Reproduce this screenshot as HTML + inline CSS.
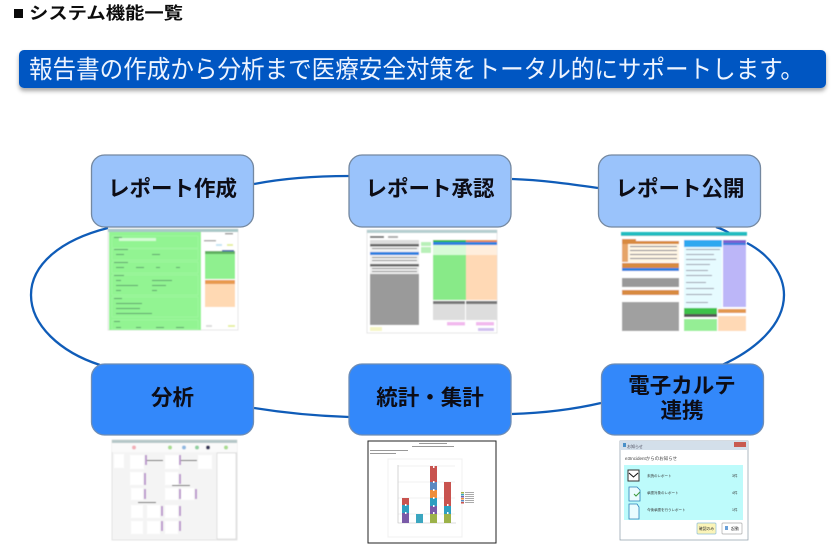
<!DOCTYPE html>
<html lang="ja"><head><meta charset="utf-8"><title>システム機能一覧</title>
<style>html,body{margin:0;padding:0;background:#fff}svg{display:block}
text{font-family:"Liberation Sans","Noto Sans CJK JP",sans-serif}
.b{font-weight:700;fill:#0a0a14;font-size:21.5px;text-anchor:middle}</style></head><body>
<svg width="840" height="555" viewBox="0 0 840 555" xmlns="http://www.w3.org/2000/svg">
<defs><filter id="s" x="-5%" y="-20%" width="110%" height="150%"><feDropShadow dx="0" dy="3" stdDeviation="2" flood-color="#000" flood-opacity=".35"/></filter>
<filter id="bl" x="-2%" y="-2%" width="104%" height="104%"><feGaussianBlur stdDeviation=".5"/></filter>
<filter id="tb" x="-2%" y="-10%" width="104%" height="120%"><feGaussianBlur stdDeviation=".3"/></filter></defs>
<rect x="14" y="9" width="9" height="9" fill="#0a0a0a"/>
<text x="29" y="19" font-size="17" font-weight="700" fill="#0a0a0a" textLength="154" lengthAdjust="spacingAndGlyphs" filter="url(#tb)">システム機能一覧</text>
<rect x="19" y="50" width="807" height="38" rx="5" fill="#0657c2" filter="url(#s)"/>
<text x="29" y="78" font-size="25" fill="#eef4ff" textLength="775" lengthAdjust="spacingAndGlyphs" filter="url(#tb)">報告書の作成から分析まで医療安全対策をトータル的にサポートします。</text>
<g fill="none" stroke="#0f5cb8" stroke-width="2.3">
<path d="M108 228C60 240 31 265 31 295C31 325 60 352 100 365"/>
<path d="M254 184C285 178 318 176 349 176"/>
<path d="M512 179C542 180 570 184 598 188"/>
<path d="M716 227C722 229 726 231 729 233"/>
<path d="M254 408C285 413 318 416 349 417"/>
<path d="M512 414C545 413 575 409 601 403"/>
</g>
<!-- screen 1 -->
<g filter="url(#bl)">
<rect x="108" y="229" width="130" height="101" fill="#fff" stroke="#ccc" stroke-width=".5"/>
<rect x="108" y="229" width="130" height="3" fill="#a9c8c8"/>
<rect x="109" y="232" width="92" height="98" fill="#92f492"/>
<g fill="none" stroke="#a6f6a6" stroke-width=".6"><rect x="112" y="236" width="86" height="12"/><rect x="112" y="249" width="86" height="11"/><rect x="112" y="262" width="86" height="11"/><rect x="112" y="275" width="86" height="20"/><rect x="112" y="297" width="86" height="20"/><rect x="112" y="320" width="86" height="9"/></g>
<rect x="119" y="238" width="30" height="3" fill="#d4fbd4"/><rect x="141" y="238" width="15" height="3" fill="#d4fbd4"/>
<g fill="#5d9f6d"><rect x="114" y="237" width="8" height="1"/><rect x="114" y="249" width="14" height="1"/><rect x="116" y="254" width="8" height="1"/><rect x="152" y="254" width="8" height="1"/><rect x="114" y="262" width="14" height="1"/><rect x="116" y="267" width="8" height="1"/><rect x="136" y="267" width="8" height="1"/><rect x="156" y="267" width="4" height="1"/><rect x="176" y="267" width="4" height="1"/><rect x="114" y="275" width="10" height="1"/><rect x="116" y="280" width="5" height="1"/><rect x="152" y="280" width="20" height="1"/><rect x="116" y="285" width="22" height="1"/><rect x="152" y="285" width="14" height="1"/><rect x="116" y="290" width="5" height="1"/><rect x="152" y="290" width="5" height="1"/><rect x="114" y="298" width="8" height="1"/><rect x="116" y="303" width="26" height="1"/><rect x="116" y="308" width="24" height="1"/><rect x="116" y="313" width="36" height="1"/><rect x="114" y="321" width="6" height="1"/><rect x="116" y="327" width="5" height="1"/><rect x="136" y="327" width="5" height="1"/><rect x="156" y="327" width="8" height="1"/><rect x="176" y="327" width="8" height="1"/></g>
<rect x="205" y="251" width="30" height="3" fill="#60b060"/><rect x="205" y="254" width="30" height="25" fill="#8ff08f"/>
<rect x="205" y="280" width="30" height="4" fill="#e89a50"/><rect x="205" y="284" width="30" height="23" fill="#ffd9b3"/>
<rect x="222" y="250" width="12" height="1.500" fill="#46a"/><rect x="225" y="233" width="8" height="1.500" fill="#999"/><rect x="204" y="240" width="12" height="1.500" fill="#aaa"/>
<rect x="216" y="244" width="6" height="2" fill="#c6e4f4"/><rect x="227" y="244" width="6" height="2" fill="#e6f0a0"/><rect x="228" y="325" width="7" height="2" fill="#e6f0a0"/><rect x="206" y="325" width="6" height="2" fill="#ddd"/>
</g>
<!-- screen 2 -->
<g filter="url(#bl)">
<rect x="367" y="230" width="130" height="103" fill="#fff" stroke="#ccc" stroke-width=".5"/>
<rect x="367" y="230" width="130" height="3" fill="#b5cfd0"/>
<rect x="370" y="236" width="14" height="2" fill="#777"/><rect x="388" y="236" width="10" height="2" fill="#aaa"/>
<rect x="370" y="240" width="49" height="4" fill="#ddd"/>
<rect x="370" y="244" width="49" height="2.500" fill="#666"/>
<rect x="370" y="246.500" width="49" height="18" fill="#f2f2f2"/>
<rect x="370" y="252" width="49" height="3" fill="#2f80e0"/>
<rect x="370" y="264" width="49" height="2.500" fill="#666"/>
<rect x="370" y="266.500" width="49" height="8" fill="#eee"/>
<rect x="370" y="274" width="49" height="51" fill="#9a9a9a"/>
<g fill="#888"><rect x="372" y="248" width="45" height="1"/><rect x="372" y="257" width="45" height="1"/><rect x="372" y="260" width="45" height="1"/><rect x="372" y="268" width="45" height="1"/><rect x="372" y="271" width="45" height="1"/></g>
<rect x="421" y="242" width="10" height="4" fill="#b8f0b8"/><rect x="421" y="247" width="10" height="6" fill="#b8f0b8"/>
<rect x="433" y="240" width="33" height="2" fill="#2dbb3a"/><rect x="433" y="242" width="33" height="3" fill="#2f80e0"/><rect x="433" y="245" width="33" height="10" fill="#d8fbd8"/>
<rect x="433" y="255" width="33" height="45" fill="#88ea88"/>
<rect x="466" y="240" width="31" height="2" fill="#e98b3c"/><rect x="466" y="242" width="31" height="3" fill="#2f80e0"/><rect x="466" y="245" width="31" height="10" fill="#ffeedd"/>
<rect x="466" y="255" width="31" height="45" fill="#ffd9b5"/>
<rect x="433" y="301" width="32" height="3" fill="#777"/><rect x="433" y="304" width="32" height="16" fill="#ddd"/>
<rect x="466" y="301" width="31" height="3" fill="#777"/><rect x="466" y="304" width="31" height="16" fill="#ddd"/>
<rect x="447" y="322" width="18" height="3.500" fill="#f2b9ee"/><rect x="476" y="322" width="18" height="3.500" fill="#f2b9ee"/>
<rect x="370" y="327" width="12" height="4" fill="#f6f6c4"/><rect x="478" y="328" width="16" height="3" fill="#d0bff0"/>
</g>
<!-- screen 3 -->
<g filter="url(#bl)">
<rect x="621" y="232" width="126" height="100" fill="#fff"/>
<rect x="621" y="232" width="126" height="4" fill="#22bcc0"/>
<rect x="622" y="239" width="14" height="2" fill="#d88a40"/>
<rect x="622" y="241" width="57" height="3" fill="#d88a40"/>
<rect x="622" y="244" width="57" height="18" fill="#fff6e4"/>
<g fill="#778"><rect x="630" y="246" width="47" height="1"/><rect x="630" y="250" width="47" height="1"/><rect x="630" y="254" width="47" height="1"/><rect x="630" y="258" width="47" height="1"/></g>
<rect x="622" y="244" width="6" height="18" fill="#e6a468"/>
<rect x="622" y="263" width="57" height="5" fill="#d88a40"/><rect x="622" y="268" width="57" height="3" fill="#2f80e0"/>
<rect x="622" y="271" width="57" height="7" fill="#fff"/><rect x="622" y="278" width="57" height="9" fill="#999"/>
<rect x="622" y="290" width="57" height="5" fill="#d88a40"/><rect x="622" y="295" width="57" height="7" fill="#fff"/><rect x="622" y="302" width="57" height="29" fill="#a0a0a0"/>
<rect x="684" y="240" width="38" height="7" fill="#2fa8f0"/>
<rect x="684" y="247" width="38" height="61" fill="#e6fbff"/>
<g fill="#99a"><rect x="686" y="249" width="34" height="1"/><rect x="686" y="254" width="28" height="1"/><rect x="686" y="259" width="30" height="1"/><rect x="686" y="264" width="24" height="1"/><rect x="686" y="270" width="22" height="1"/><rect x="686" y="275" width="26" height="1"/><rect x="686" y="282" width="20" height="1"/><rect x="686" y="288" width="28" height="1"/><rect x="686" y="294" width="26" height="1"/><rect x="686" y="302" width="22" height="1"/></g>
<rect x="684" y="308" width="33" height="6" fill="#3cc24a"/><rect x="684" y="314" width="33" height="3" fill="#555"/><rect x="684" y="319" width="33" height="12" fill="#95ee95"/>
<rect x="723" y="240" width="23" height="3" fill="#7b5fd0"/><rect x="723" y="243" width="23" height="2" fill="#2f80e0"/><rect x="723" y="245" width="23" height="62" fill="#bcb6f8"/>
<rect x="718" y="309" width="28" height="4" fill="#e3984f"/><rect x="718" y="313" width="28" height="3" fill="#fff"/><rect x="718" y="316" width="28" height="15" fill="#ffd9b5"/>
</g>
<path d="M747 243C770 255 784 275 784 295C784 325 755 350 722 365" fill="none" stroke="#0f5cb8" stroke-width="2.300"/>
<!-- screen 4 -->
<g filter="url(#bl)">
<rect x="112" y="440" width="125" height="100" fill="#f4f4f4" stroke="#ccc" stroke-width=".5"/>
<rect x="112" y="440" width="125" height="3" fill="#b5c7c8"/>
<rect x="112" y="443" width="125" height="9" fill="#fafafa"/>
<circle cx="134" cy="447.500" r="2" fill="#f2b0b8"/><circle cx="170" cy="447.500" r="2" fill="#a8dc90"/><circle cx="184" cy="447.500" r="2" fill="#90b8e0"/><circle cx="197" cy="447.500" r="2" fill="#90d0a0"/><circle cx="208" cy="447.500" r="2" fill="#335"/><circle cx="226" cy="447.500" r="2" fill="#a8dc90"/>
<g fill="#fff"><rect x="114" y="454" width="10" height="14"/><rect x="130" y="455" width="14" height="14"/><rect x="165" y="455" width="14" height="14"/><rect x="198" y="455" width="14" height="14"/><rect x="130" y="472" width="13" height="13"/><rect x="165" y="472" width="13" height="13"/><rect x="131" y="488" width="12" height="12"/><rect x="165" y="488" width="13" height="12"/><rect x="181" y="488" width="13" height="12"/><rect x="131" y="505" width="12" height="13"/><rect x="147" y="505" width="13" height="13"/><rect x="165" y="505" width="13" height="13"/><rect x="131" y="521" width="12" height="13"/><rect x="147" y="521" width="13" height="13"/><rect x="165" y="521" width="13" height="13"/></g>
<rect x="217" y="453" width="19" height="86" fill="#fff" stroke="#bbb" stroke-width=".4"/>
<g fill="#555"><rect x="145" y="460" width="18" height="1"/><rect x="180" y="460" width="17" height="1"/><rect x="172" y="485" width="18" height="1"/><rect x="138" y="502" width="18" height="1"/></g>
<g fill="#b9c"><rect x="145" y="455" width="2" height="10"/><rect x="179" y="455" width="2" height="10"/><rect x="144" y="473" width="2" height="12"/><rect x="179" y="474" width="2" height="10"/><rect x="144" y="489" width="2" height="10"/><rect x="179" y="489" width="2" height="10"/><rect x="195" y="489" width="2" height="10"/><rect x="161" y="506" width="2" height="10"/><rect x="179" y="506" width="2" height="10"/><rect x="161" y="521" width="2" height="10"/><rect x="179" y="521" width="2" height="10"/></g>
</g>
<!-- screen 5 -->
<g filter="url(#tb)">
<rect x="368" y="441" width="128" height="102" fill="#fff" stroke="#222" stroke-width="1"/>
<rect x="419" y="443" width="28" height="1" fill="#999"/><rect x="412" y="446" width="42" height="1" fill="#999"/>
<rect x="370" y="450" width="38" height="1" fill="#999"/><rect x="370" y="453" width="26" height="1" fill="#999"/>
<rect x="388" y="459" width="74" height="78" fill="none" stroke="#f0f0f0"/>
<g stroke="#e2e2e2" stroke-width=".5"><path d="M398 466H455M398 482H455M398 498H455M398 514H455"/></g>
<path d="M398 465V523H456" fill="none" stroke="#bbb" stroke-width=".6"/>
<rect x="402" y="513" width="7" height="10" fill="#7a5aa8"/><rect x="402" y="505" width="7" height="8" fill="#2f9fc0"/><rect x="402" y="498" width="7" height="7" fill="#c8534f"/>
<rect x="416" y="514" width="7" height="9" fill="#3aa6c0"/>
<rect x="430" y="514" width="7" height="9" fill="#9cb24a"/><rect x="430" y="506" width="7" height="8" fill="#7a5aa8"/><rect x="430" y="498" width="7" height="8" fill="#2f9fc0"/><rect x="430" y="490" width="7" height="8" fill="#ef8f3b"/><rect x="430" y="482" width="7" height="8" fill="#5a88c0"/><rect x="430" y="466" width="7" height="16" fill="#c8534f"/>
<rect x="444" y="514" width="7" height="9" fill="#9cb24a"/><rect x="444" y="506" width="7" height="8" fill="#2f9fc0"/><rect x="444" y="482" width="7" height="24" fill="#c8534f"/>
<g fill="#fff"><rect x="405" y="504" width="1.500" height="2"/><rect x="405" y="512" width="1.500" height="2"/><rect x="433" y="466" width="1.500" height="2"/><rect x="433" y="481" width="1.500" height="2"/><rect x="433" y="489" width="1.500" height="2"/><rect x="433" y="497" width="1.500" height="2"/><rect x="433" y="505" width="1.500" height="2"/><rect x="433" y="512" width="1.500" height="2"/><rect x="447" y="504" width="1.500" height="2"/><rect x="447" y="512" width="1.500" height="2"/></g>
<rect x="461" y="492" width="3" height="1.500" fill="#9cb24a"/><rect x="461" y="494" width="3" height="1.500" fill="#3aa6c0"/><rect x="461" y="496" width="3" height="1.500" fill="#7a5aa8"/><rect x="461" y="498" width="3" height="1.500" fill="#ef8f3b"/><rect x="461" y="500" width="3" height="1.500" fill="#5a88c0"/><rect x="461" y="502" width="3" height="1.500" fill="#c8534f"/>
<g fill="#aaa"><rect x="465" y="492" width="9" height="1"/><rect x="465" y="494" width="9" height="1"/><rect x="465" y="496" width="9" height="1"/><rect x="465" y="498" width="9" height="1"/><rect x="465" y="500" width="9" height="1"/><rect x="465" y="502" width="9" height="1"/></g>
</g>
<!-- screen 6 -->
<g filter="url(#tb)">
<rect x="620" y="441" width="128" height="99" fill="#fff" stroke="#8a9aa8" stroke-width=".7"/>
<rect x="620" y="441" width="128" height="9" fill="#d3dfea"/>
<rect x="734" y="442" width="12" height="5" fill="#c85a50"/>
<rect x="624" y="465" width="119" height="55" fill="#bdfbfb"/>
<rect x="623" y="443" width="3" height="4" fill="#4a90c8"/>
<text x="627" y="448" font-size="4" fill="#445">お知らせ</text>
<text x="625" y="460" font-size="4.500" fill="#444">e3Incidentからのお知らせ</text>
<rect x="628" y="470" width="11" height="11" fill="#fff" stroke="#333"/><path d="M629 473L633.500 477L638 473" fill="none" stroke="#111"/>
<path d="M629 487h8l3 3v11h-11z" fill="#eafcff" stroke="#2a7fb8" stroke-width=".8"/><path d="M634 494l2 2 4-4" fill="none" stroke="#3a9a3a"/>
<path d="M629 504h8l2 3v12h-10z" fill="#eafcff" stroke="#2a7fb8" stroke-width=".8"/>
<g font-size="3.500" fill="#333"><text x="647" y="477">未読のレポート</text><text x="647" y="494">承認対象のレポート</text><text x="647" y="511">今後承認を行うレポート</text><text x="732" y="477">3件</text><text x="732" y="494">4件</text><text x="732" y="511">1件</text></g>
<rect x="697" y="523" width="19" height="11" rx="1" fill="#fbf4b8" stroke="#8fbfd8" stroke-width=".7"/><text x="706.500" y="530" font-size="3.800" fill="#333" text-anchor="middle">確認のみ</text>
<rect x="722" y="523" width="20" height="11" rx="1" fill="#fff" stroke="#aaa" stroke-width=".7"/><text x="735" y="530" font-size="4" fill="#333" text-anchor="middle">起動</text>
<rect x="725" y="526" width="3" height="4" fill="#6aa0d8"/>
</g>
<!-- nodes -->
<g stroke="#7488a0" stroke-width="1.300" fill="#9ac3fb">
<rect x="91.500" y="155" width="162" height="72" rx="13"/>
<rect x="349" y="155" width="162" height="72" rx="13"/>
<rect x="598.500" y="155" width="162" height="72" rx="13"/>
</g>
<g stroke="#6e8db5" stroke-width="1.300" fill="#3388fa">
<rect x="91.500" y="364" width="162" height="71" rx="13"/>
<rect x="349" y="364" width="162" height="71" rx="13"/>
<rect x="601.500" y="364" width="162" height="71" rx="13"/>
</g>
<g filter="url(#tb)">
<text class="b" x="172.500" y="196">レポート作成</text>
<text class="b" x="430" y="196">レポート承認</text>
<text class="b" x="680" y="196">レポート公開</text>
<text class="b" x="172.500" y="405">分析</text>
<text class="b" x="430" y="405">統計・集計</text>
<text class="b" x="682" y="393">電子カルテ</text>
<text class="b" x="682" y="418">連携</text>
</g>
</svg>
</body></html>
